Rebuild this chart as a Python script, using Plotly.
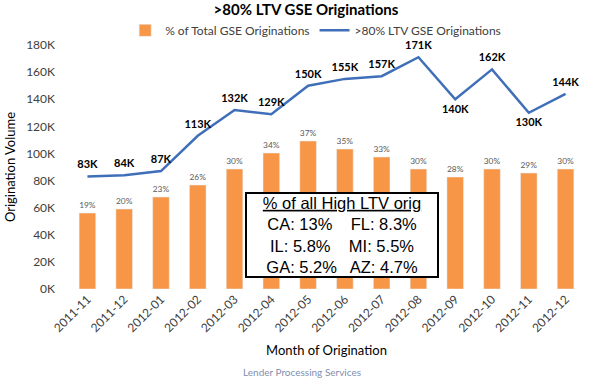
import plotly.graph_objects as go

months = ["2011-11", "2011-12", "2012-01", "2012-02", "2012-03", "2012-04", "2012-05",
          "2012-06", "2012-07", "2012-08", "2012-09", "2012-10", "2012-11", "2012-12"]
pct_total = [19, 20, 23, 26, 30, 34, 37, 35, 33, 30, 28, 30, 29, 30]
volume_k = [83, 84, 87, 113, 132, 129, 150, 155, 157, 171, 140, 162, 130, 144]
label_pos = ["top center"] * 10 + ["bottom center", "top center", "bottom center", "top center"]
y_ticks = [0, 20, 40, 60, 80, 100, 120, 140, 160, 180]

font_main = "Lato"

fig = go.Figure()
fig.add_trace(go.Bar(
    x=months, y=[p / 100 for p in pct_total], yaxis="y2",
    name="% of Total GSE Originations",
    marker=dict(color="#F79646"),
    text=[f"{p}%" for p in pct_total], textposition="outside",
    textfont=dict(size=11, color="#595959", family=font_main),
    cliponaxis=False,
))
fig.add_trace(go.Scatter(
    x=months, y=[v * 1000 for v in volume_k], yaxis="y",
    name=">80% LTV GSE Originations", mode="lines",
    line=dict(color="#3F6FB8", width=2.5),
))
fig.add_trace(go.Scatter(
    x=months, y=[v * 1000 for v in volume_k], yaxis="y",
    mode="markers+text", showlegend=False, hoverinfo="skip",
    marker=dict(size=7, opacity=0, color="#3F6FB8"),
    text=[f"<b>{v}K</b>" for v in volume_k], textposition=label_pos,
    textfont=dict(size=11, color="black", family=font_main),
    cliponaxis=False,
))

fig.update_layout(
    width=600, height=387,
    margin=dict(l=56, r=3, t=45, b=98, autoexpand=False),
    plot_bgcolor="white", paper_bgcolor="white",
    font=dict(family=font_main, size=12, color="#404040"),
    title=dict(text="<b>>80% LTV GSE Originations</b>", x=0.51, xanchor="center",
               y=0.974, yanchor="middle", font=dict(size=15, color="black")),
    legend=dict(orientation="h", x=0.48, xanchor="center", y=1.06, yanchor="middle",
                font=dict(size=12, color="#404040"), traceorder="normal",
                bgcolor="rgba(0,0,0,0)", itemwidth=30),
    bargap=0.55,
    xaxis=dict(type="category", tickangle=-45, showgrid=False, showline=False, ticks="",
               automargin=False,
               title=dict(text="Month of Origination", font=dict(size=13, color="black"), standoff=11),
               tickfont=dict(size=12, color="#404040")),
    yaxis=dict(range=[0, 180000], tickvals=[t * 1000 for t in y_ticks],
               ticktext=[f"{t}K" for t in y_ticks], showgrid=False, showline=False,
               zeroline=False, ticks="", automargin=False,
               title=dict(text="Origination Volume", font=dict(size=13, color="black"), standoff=7),
               tickfont=dict(size=12, color="#404040")),
    yaxis2=dict(range=[0, 0.61], overlaying="y", side="right", visible=False),
    showlegend=True,
)
fig.add_annotation(
    xref="paper", yref="paper", x=0.349, y=0.045, xanchor="left", yanchor="bottom",
    text="<u>% of all High LTV orig</u><br>CA: 13%    FL: 8.3%<br>IL: 5.8%    MI: 5.5%<br>GA: 5.2%   AZ: 4.7%",
    showarrow=False, align="center", width=186, height=78,
    font=dict(family="Liberation Sans", size=16.5, color="black"),
    bgcolor="white", bordercolor="black", borderwidth=2, borderpad=2,
)
fig.add_annotation(
    xref="paper", yref="paper", x=0.455, y=-0.34, xanchor="center", yanchor="middle",
    text="Lender Processing Services", showarrow=False,
    font=dict(size=10, color="#7F8FB0", family=font_main),
)
fig.write_html("out.html", post_script="document.body.style.margin='0';",
               config={"displayModeBar": False})
